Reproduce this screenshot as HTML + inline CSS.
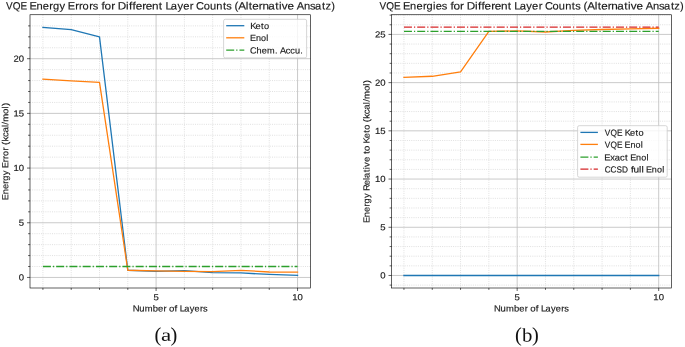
<!DOCTYPE html>
<html><head><meta charset="utf-8"><title>VQE Energy Errors and Energies</title>
<style>
html,body{margin:0;padding:0;background:#fff;}
body{width:685px;height:347px;overflow:hidden;}
svg{display:block;will-change:transform;}
text{font-family:"Liberation Sans", sans-serif;fill:#1a1a1a;stroke:#1a1a1a;stroke-width:0.15px;font-kerning:none;text-rendering:geometricPrecision;}
.cap{font-family:"Liberation Serif", serif;fill:#111;stroke:none;}
</style></head><body>
<svg width="685" height="347" viewBox="0 0 685 347">
<rect width="685" height="347" fill="#fff"/>
<clipPath id="cl"><rect x="30" y="14.75" width="280.5" height="273.25"/></clipPath>
<path d="M42.92 14.75V288M71.21 14.75V288M99.5 14.75V288M127.8 14.75V288M184.38 14.75V288M212.67 14.75V288M240.97 14.75V288M269.26 14.75V288M30 266.51H310.5M30 255.57H310.5M30 244.64H310.5M30 233.7H310.5M30 211.82H310.5M30 200.89H310.5M30 189.95H310.5M30 179.01H310.5M30 157.14H310.5M30 146.2H310.5M30 135.26H310.5M30 124.32H310.5M30 102.45H310.5M30 91.51H310.5M30 80.57H310.5M30 69.64H310.5M30 47.76H310.5M30 36.82H310.5M30 25.89H310.5" stroke="#dcdcdc" stroke-width="0.9" stroke-dasharray="1 1.2" fill="none"/>
<path d="M156.09 14.75V288M297.55 14.75V288M30 277.45H310.5M30 222.76H310.5M30 168.07H310.5M30 113.39H310.5M30 58.7H310.5" stroke="#bcbcbc" stroke-width="0.8" fill="none"/>
<g clip-path="url(#cl)" fill="none" stroke-width="1.3" stroke-linejoin="round" stroke-linecap="butt">
<path d="M42.92 27.42 L71.21 29.72 L99.5 36.93 L127.8 270.23 L156.09 271.32 L184.38 270.56 L212.67 272.53 L240.97 272.97 L269.26 274.39 L297.55 275.37" stroke="#1f77b4" stroke-linecap="square"/>
<path d="M42.92 79.26 L71.21 80.9 L99.5 82.43 L127.8 270.23 L156.09 270.89 L184.38 271.32 L212.67 271.65 L240.97 270.34 L269.26 271.98 L297.55 272.2" stroke="#ff7f0e" stroke-linecap="square"/>
<path d="M42.92 266.51H297.55" stroke="#2ca02c" stroke-dasharray="8 2 1.25 2"/>
</g>
<path d="M42.92 288v1.9M71.21 288v1.9M99.5 288v1.9M127.8 288v1.9M156.09 288v3M184.38 288v1.9M212.67 288v1.9M240.97 288v1.9M269.26 288v1.9M297.55 288v3M30 277.45h-3M30 266.51h-1.9M30 255.57h-1.9M30 244.64h-1.9M30 233.7h-1.9M30 222.76h-3M30 211.82h-1.9M30 200.89h-1.9M30 189.95h-1.9M30 179.01h-1.9M30 168.07h-3M30 157.14h-1.9M30 146.2h-1.9M30 135.26h-1.9M30 124.32h-1.9M30 113.39h-3M30 102.45h-1.9M30 91.51h-1.9M30 80.57h-1.9M30 69.64h-1.9M30 58.7h-3M30 47.76h-1.9M30 36.82h-1.9M30 25.89h-1.9" stroke="#000" stroke-width="0.62" fill="none"/>
<rect x="30" y="14.75" width="280.5" height="273.25" fill="none" stroke="#000" stroke-width="0.62"/>
<g transform="translate(156.09 300.2)"><text transform="matrix(1.0796,0.0005,0,1,0,0)" x="-2.49" y="0" font-size="8.85">5</text></g>
<g transform="translate(297.55 300.2)"><text transform="matrix(1.0796,0.0005,0,1,0,0)" x="-4.97 -0" y="0" font-size="8.85">10</text></g>
<g transform="translate(24.15 280.49)"><text transform="matrix(1.0796,0.0005,0,1,0,0)" x="-4.92" y="0" font-size="8.85">0</text></g>
<g transform="translate(24.15 225.8)"><text transform="matrix(1.0796,0.0005,0,1,0,0)" x="-4.95" y="0" font-size="8.85">5</text></g>
<g transform="translate(24.15 171.11)"><text transform="matrix(1.0796,0.0005,0,1,0,0)" x="-9.89 -4.92" y="0" font-size="8.85">10</text></g>
<g transform="translate(24.15 116.43)"><text transform="matrix(1.0796,0.0005,0,1,0,0)" x="-9.89 -4.95" y="0" font-size="8.85">15</text></g>
<g transform="translate(24.15 61.74)"><text transform="matrix(1.0796,0.0005,0,1,0,0)" x="-9.95 -4.92" y="0" font-size="8.85">20</text></g>
<g transform="translate(170.25 311.4)"><text transform="matrix(1.0659,0.0005,0,1,0,0.01)" x="-35.23 -29.09 -23.98 -16.44 -11.57 -6.44" y="0" font-size="8.85">Number</text><text transform="matrix(1.0907,0.0005,0,1,0,-0)" x="-1.1 3.91" y="0" font-size="8.85">of</text><text transform="matrix(1.0405,0.0005,0,1,0,-0.01)" x="9.19 13.42 18.81 23.42 28.66 31.57" y="0" font-size="8.85">Layers</text></g>
<g transform="translate(8.2 151.38) rotate(-90)"><text transform="matrix(1.0480,0.0005,0,1,0,0.02)" x="-46.58 -40.99 -36.02 -30.82 -27.96 -22.79" y="0" font-size="8.85">Energy</text><text transform="matrix(1.0520,0.0005,0,1,0,0)" x="-16.1 -10.31 -7.18 -4.43 0.76" y="0" font-size="8.85">Error</text><text transform="matrix(1.0890,0.0005,0,1,0,-0.01)" x="5.83 9.06 13.26 17.26 22.46 24.57 27.16 34.45 39.33 41.63" y="0" font-size="8.85">(kcal/mol)</text></g>
<g transform="translate(170.25 9.45)"><text transform="matrix(0.9398,0.0005,0,1,0,0.08)" x="-174.87 -167.61 -159.47" y="0" font-size="10.63">VQE</text><text transform="matrix(1.0480,0.0005,0,1,0,0.06)" x="-134.31 -127.6 -121.62 -115.37 -111.94 -105.73" y="0" font-size="10.63">Energy</text><text transform="matrix(1.0394,0.0005,0,1,0,0.04)" x="-98.54 -91.52 -87.72 -84.36 -78.06 -74.56" y="0" font-size="10.63">Errors</text><text transform="matrix(1.1120,0.0005,0,1,0,0.03)" x="-61.84 -59.07 -53.13" y="0" font-size="10.63">for</text><text transform="matrix(1.1036,0.0005,0,1,0,0.02)" x="-47.48 -40.06 -37.39 -34.19 -31.36 -25.38 -22.24 -16.56 -10.47" y="0" font-size="10.63">Different</text><text transform="matrix(1.0519,0.0005,0,1,0,-0)" x="-4.62 0.4 6.82 12.29 18.52" y="0" font-size="10.63">Layer</text><text transform="matrix(1.0397,0.0005,0,1,0,-0.02)" x="24.88 32.14 38.13 44.28 50.66 53.98" y="0" font-size="10.63">Counts</text><text transform="matrix(1.0998,0.0005,0,1,0,-0.05)" x="58.49 61.88 68.63 71.36 74.53 80.52 83.81 89.11 95.51 98.89 101.38 106.6" y="0" font-size="10.63">(Alternative</text><text transform="matrix(1.0464,0.0005,0,1,0,-0.07)" x="120.86 127.79 133.67 138.36 145 148.29 153.79" y="0" font-size="10.63">Ansatz)</text></g>
<rect x="223.6" y="19.3" width="83" height="38.6" rx="1.6" fill="#fff" fill-opacity="0.8" stroke="#cccccc" stroke-width="0.8"/>
<path d="M226.2 25.7H244.3" stroke="#1f77b4" stroke-width="1.3" fill="none"/>
<g transform="translate(250.5 29)"><text transform="matrix(1.0437,0.0005,0,1,0,-0)" x="-0.16 4.86 10.09 12.89" y="0" font-size="8.85">Keto</text></g>
<path d="M226.2 37.8H244.3" stroke="#ff7f0e" stroke-width="1.3" fill="none"/>
<g transform="translate(250.5 41.1)"><text transform="matrix(1.0163,0.0005,0,1,0,-0)" x="-0.39 5.35 10.45 15.58" y="0" font-size="8.85">Enol</text></g>
<path d="M226.2 50.1H244.3" stroke="#2ca02c" stroke-width="1.3" stroke-dasharray="8 2 1.25 2" fill="none"/>
<g transform="translate(250.5 53.4)"><text transform="matrix(1.0379,0.0005,0,1,0,-0.01)" x="-0.43 5.71 10.75 15.92 23.55" y="0" font-size="8.85">Chem.</text><text transform="matrix(1.0322,0.0005,0,1,0,-0.02)" x="28.59 34.08 38.53 43.15 48.24" y="0" font-size="8.85">Accu.</text></g>
<clipPath id="cr"><rect x="391.5" y="14.75" width="280" height="273.25"/></clipPath>
<path d="M403.95 14.75V288M432.26 14.75V288M460.56 14.75V288M488.87 14.75V288M545.48 14.75V288M573.78 14.75V288M602.09 14.75V288M630.39 14.75V288M391.5 285.12H671.5M391.5 265.84H671.5M391.5 256.2H671.5M391.5 246.55H671.5M391.5 236.91H671.5M391.5 217.63H671.5M391.5 207.98H671.5M391.5 198.34H671.5M391.5 188.7H671.5M391.5 169.41H671.5M391.5 159.77H671.5M391.5 150.13H671.5M391.5 140.49H671.5M391.5 121.2H671.5M391.5 111.56H671.5M391.5 101.92H671.5M391.5 92.27H671.5M391.5 72.99H671.5M391.5 63.35H671.5M391.5 53.7H671.5M391.5 44.06H671.5M391.5 24.78H671.5M391.5 15.14H671.5" stroke="#dcdcdc" stroke-width="0.9" stroke-dasharray="1 1.2" fill="none"/>
<path d="M517.17 14.75V288M658.7 14.75V288M391.5 275.48H671.5M391.5 227.27H671.5M391.5 179.06H671.5M391.5 130.84H671.5M391.5 82.63H671.5M391.5 34.42H671.5" stroke="#bcbcbc" stroke-width="0.8" fill="none"/>
<g clip-path="url(#cr)" fill="none" stroke-width="1.3" stroke-linejoin="round" stroke-linecap="butt">
<path d="M403.95 275.48H658.7" stroke="#1f77b4" stroke-linecap="square"/>
<path d="M403.95 77.33 L432.26 76.27 L460.56 71.83 L488.87 31.43 L517.17 30.85 L545.48 32.01 L573.78 30.47 L602.09 29.5 L630.39 28.92 L658.7 28.25" stroke="#ff7f0e" stroke-linecap="square"/>
<path d="M403.95 31.43H658.7" stroke="#2ca02c" stroke-dasharray="8 2 1.25 2"/>
<path d="M403.95 27.09H658.7" stroke="#d62728" stroke-dasharray="8 2 1.25 2"/>
</g>
<path d="M403.95 288v1.9M432.26 288v1.9M460.56 288v1.9M488.87 288v1.9M517.17 288v3M545.48 288v1.9M573.78 288v1.9M602.09 288v1.9M630.39 288v1.9M658.7 288v3M391.5 285.12h-1.9M391.5 275.48h-3M391.5 265.84h-1.9M391.5 256.2h-1.9M391.5 246.55h-1.9M391.5 236.91h-1.9M391.5 227.27h-3M391.5 217.63h-1.9M391.5 207.98h-1.9M391.5 198.34h-1.9M391.5 188.7h-1.9M391.5 179.06h-3M391.5 169.41h-1.9M391.5 159.77h-1.9M391.5 150.13h-1.9M391.5 140.49h-1.9M391.5 130.84h-3M391.5 121.2h-1.9M391.5 111.56h-1.9M391.5 101.92h-1.9M391.5 92.27h-1.9M391.5 82.63h-3M391.5 72.99h-1.9M391.5 63.35h-1.9M391.5 53.7h-1.9M391.5 44.06h-1.9M391.5 34.42h-3M391.5 24.78h-1.9M391.5 15.14h-1.9" stroke="#000" stroke-width="0.62" fill="none"/>
<rect x="391.5" y="14.75" width="280" height="273.25" fill="none" stroke="#000" stroke-width="0.62"/>
<g transform="translate(517.17 300.2)"><text transform="matrix(1.0796,0.0005,0,1,0,0)" x="-2.49" y="0" font-size="8.85">5</text></g>
<g transform="translate(658.7 300.2)"><text transform="matrix(1.0796,0.0005,0,1,0,0)" x="-4.97 -0" y="0" font-size="8.85">10</text></g>
<g transform="translate(385.65 278.52)"><text transform="matrix(1.0796,0.0005,0,1,0,0)" x="-4.92" y="0" font-size="8.85">0</text></g>
<g transform="translate(385.65 230.31)"><text transform="matrix(1.0796,0.0005,0,1,0,0)" x="-4.95" y="0" font-size="8.85">5</text></g>
<g transform="translate(385.65 182.1)"><text transform="matrix(1.0796,0.0005,0,1,0,0)" x="-9.89 -4.92" y="0" font-size="8.85">10</text></g>
<g transform="translate(385.65 133.88)"><text transform="matrix(1.0796,0.0005,0,1,0,0)" x="-9.89 -4.95" y="0" font-size="8.85">15</text></g>
<g transform="translate(385.65 85.67)"><text transform="matrix(1.0796,0.0005,0,1,0,0)" x="-9.95 -4.92" y="0" font-size="8.85">20</text></g>
<g transform="translate(385.65 37.46)"><text transform="matrix(1.0796,0.0005,0,1,0,0)" x="-9.95 -4.95" y="0" font-size="8.85">25</text></g>
<g transform="translate(531.5 311.4)"><text transform="matrix(1.0659,0.0005,0,1,0,0.01)" x="-35.23 -29.09 -23.98 -16.44 -11.57 -6.44" y="0" font-size="8.85">Number</text><text transform="matrix(1.0907,0.0005,0,1,0,-0)" x="-1.1 3.91" y="0" font-size="8.85">of</text><text transform="matrix(1.0405,0.0005,0,1,0,-0.01)" x="9.19 13.42 18.81 23.42 28.66 31.57" y="0" font-size="8.85">Layers</text></g>
<g transform="translate(369.6 151.38) rotate(-90)"><text transform="matrix(1.0480,0.0005,0,1,0,0.03)" x="-68.33 -62.74 -57.77 -52.57 -49.71 -44.54" y="0" font-size="8.85">Energy</text><text transform="matrix(1.0652,0.0005,0,1,0,0.01)" x="-37.19 -31.77 -26.81 -25.1 -19.65 -16.75 -14.57 -10.07" y="0" font-size="8.85">Relative</text><text transform="matrix(1.1360,0.0005,0,1,0,0)" x="-2.37 0.12" y="0" font-size="8.85">to</text><text transform="matrix(1.0437,0.0005,0,1,0,-0.01)" x="7.63 12.66 17.88 20.69" y="0" font-size="8.85">Keto</text><text transform="matrix(1.0890,0.0005,0,1,0,-0.02)" x="26.76 30 34.19 38.19 43.39 45.5 48.09 55.38 60.27 62.56" y="0" font-size="8.85">(kcal/mol)</text></g>
<g transform="translate(531.5 9.45)"><text transform="matrix(0.9398,0.0005,0,1,0,0.07)" x="-161.78 -154.51 -146.38" y="0" font-size="10.63">VQE</text><text transform="matrix(1.0380,0.0005,0,1,0,0.05)" x="-123.72 -116.95 -110.92 -104.62 -101.15 -94.9 -92.35 -86.51" y="0" font-size="10.63">Energies</text><text transform="matrix(1.1120,0.0005,0,1,0,0.04)" x="-72.9 -70.14 -64.2" y="0" font-size="10.63">for</text><text transform="matrix(1.1036,0.0005,0,1,0,0.02)" x="-58.63 -51.21 -48.54 -45.34 -42.51 -36.53 -33.39 -27.71 -21.62" y="0" font-size="10.63">Different</text><text transform="matrix(1.0519,0.0005,0,1,0,0)" x="-16.32 -11.29 -4.88 0.6 6.82" y="0" font-size="10.63">Layer</text><text transform="matrix(1.0397,0.0005,0,1,0,-0.01)" x="13.04 20.31 26.29 32.45 38.83 42.15" y="0" font-size="10.63">Counts</text><text transform="matrix(1.0998,0.0005,0,1,0,-0.04)" x="47.3 50.69 57.45 60.18 63.34 69.33 72.62 77.92 84.32 87.7 90.19 95.41" y="0" font-size="10.63">(Alternative</text><text transform="matrix(1.0464,0.0005,0,1,0,-0.07)" x="109.1 116.03 121.91 126.6 133.24 136.54 142.03" y="0" font-size="10.63">Ansatz)</text></g>
<rect x="577.6" y="125.7" width="89.6" height="51.5" rx="1.6" fill="#fff" fill-opacity="0.8" stroke="#cccccc" stroke-width="0.8"/>
<path d="M580.4 132.4H597.9" stroke="#1f77b4" stroke-width="1.3" fill="none"/>
<g transform="translate(604.8 135.7)"><text transform="matrix(0.9398,0.0005,0,1,0,-0)" x="0.09 6.14 12.91" y="0" font-size="8.85">VQE</text><text transform="matrix(1.0437,0.0005,0,1,0,-0.01)" x="19.2 24.23 29.45 32.26" y="0" font-size="8.85">Keto</text></g>
<path d="M580.4 144.4H597.9" stroke="#ff7f0e" stroke-width="1.3" fill="none"/>
<g transform="translate(604.8 147.7)"><text transform="matrix(0.9398,0.0005,0,1,0,-0)" x="0.09 6.14 12.91" y="0" font-size="8.85">VQE</text><text transform="matrix(1.0163,0.0005,0,1,0,-0.01)" x="19.5 25.24 30.34 35.47" y="0" font-size="8.85">Enol</text></g>
<path d="M580.4 157.1H597.9" stroke="#2ca02c" stroke-width="1.3" stroke-dasharray="8 2 1.25 2" fill="none"/>
<g transform="translate(604.8 160.4)"><text transform="matrix(1.0484,0.0005,0,1,0,-0)" x="-0.47 5.16 9.42 14.51 19.31" y="0" font-size="8.85">Exact</text><text transform="matrix(1.0163,0.0005,0,1,0,-0.02)" x="25.05 30.79 35.89 41.02" y="0" font-size="8.85">Enol</text></g>
<path d="M580.4 169.2H597.9" stroke="#d62728" stroke-width="1.3" stroke-dasharray="8 2 1.25 2" fill="none"/>
<g transform="translate(604.8 172.5)"><text transform="matrix(0.9330,0.0005,0,1,0,-0)" x="-0.12 6.13 12.44 18.45" y="0" font-size="8.85">CCSD</text><text transform="matrix(1.1381,0.0005,0,1,0,-0.02)" x="23.03 25.32 30.15 32.19" y="0" font-size="8.85">full</text><text transform="matrix(1.0163,0.0005,0,1,0,-0.02)" x="40.52 46.26 51.36 56.49" y="0" font-size="8.85">Enol</text></g>
<g transform="matrix(1,0.0005,0,1,0,-0.08)"><text class="cap" x="154.4" y="341.6" font-size="20.4">(</text></g>
<g transform="matrix(1,0.0005,0,1,0,-0.09)"><text class="cap" x="170.4" y="341.6" font-size="20.4">)</text></g>
<text class="cap" transform="translate(160.89 340.7) scale(1.280 0.986) matrix(1,0.0005,0,1,0,0)" x="0" y="0" font-size="18">a</text>
<g transform="matrix(1,0.0005,0,1,0,-0.26)"><text class="cap" x="515" y="341.6" font-size="20.4">(</text></g>
<g transform="matrix(1,0.0005,0,1,0,-0.27)"><text class="cap" x="532.1" y="341.6" font-size="20.4">)</text></g>
<text class="cap" transform="translate(522 341.4) scale(1.154 1.065) matrix(1,0.0005,0,1,0,0)" x="0" y="0" font-size="18">b</text>
</svg>
</body></html>
